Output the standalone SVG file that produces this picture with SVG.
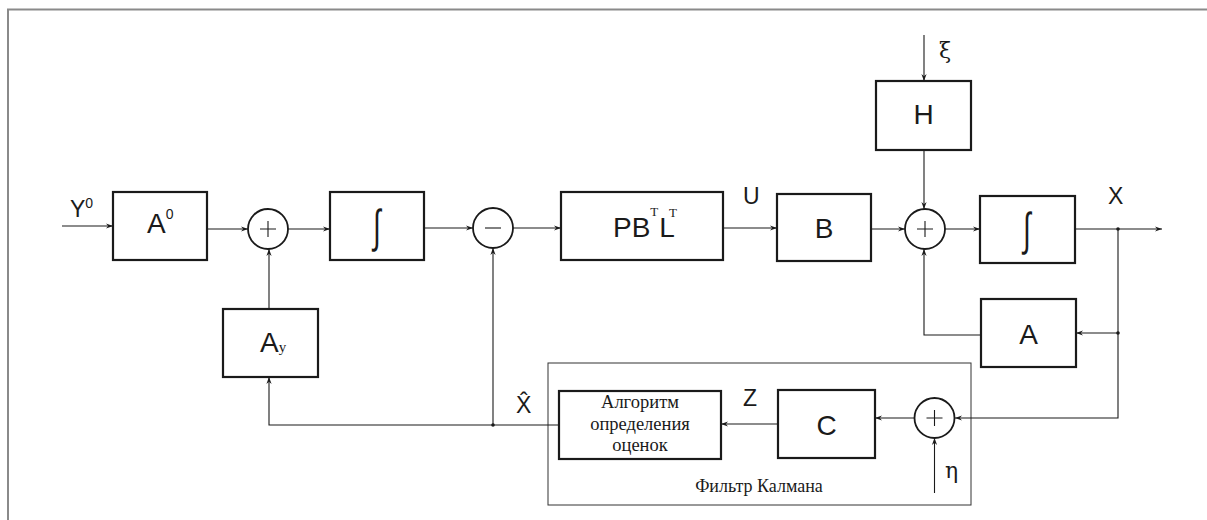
<svg xmlns="http://www.w3.org/2000/svg" width="1207" height="520" viewBox="0 0 1207 520">
  <defs>
    <marker id="arr" markerUnits="userSpaceOnUse" markerWidth="10" markerHeight="8" viewBox="-8 -4 9 8" refX="0" refY="0" orient="auto">
      <path d="M-7,-2.6 L0,0 L-7,2.6 L-4.8,0 Z" fill="#1a1a1a"/>
    </marker>
    <style>
      .blk { fill: #fff; stroke: #1a1a1a; stroke-width: 2.2; }
      .sum { fill: #fff; stroke: #1a1a1a; stroke-width: 1.8; }
      .ln { fill: none; stroke: #1a1a1a; stroke-width: 1.1; }
      .ar { marker-end: url(#arr); }
      .lbl { font-family: "Liberation Sans", Arial, sans-serif; font-size: 28px; fill: #1a1a1a; }
      .sig { font-family: "Liberation Sans", Arial, sans-serif; font-size: 23px; fill: #1a1a1a; }
      .sup { font-family: "Liberation Sans", Arial, sans-serif; font-size: 14px; fill: #1a1a1a; }
      .ser { font-family: "Liberation Serif", "Times New Roman", serif; fill: #1a1a1a; }
      .grk { font-family: "DejaVu Serif", "Liberation Serif", serif; font-size: 22px; fill: #1a1a1a; }
      .intg { font-family: "Liberation Sans", Arial, sans-serif; font-size: 46px; fill: #1a1a1a; }
      .dot { fill: #1a1a1a; }
    </style>
  </defs>

  <rect width="1207" height="520" fill="#fff"/>
  <!-- frame (top and left edges) -->
  <path d="M8,520 V9.5 H1207" fill="none" stroke="#8a8a8a" stroke-width="2"/>

  <!-- Kalman filter enclosure -->
  <g id="kalman">
    <rect x="548" y="363" width="423" height="142" fill="none" stroke="#333" stroke-width="1"/>
    <text class="ser" x="759" y="492" font-size="18" text-anchor="middle">Фильтр Калмана</text>
  </g>

  <!-- connectors -->
  <g id="connectors">
    <path class="ln ar" d="M62,226 H113"/>
    <path class="ln ar" d="M207,229 H248"/>
    <path class="ln ar" d="M288,229 H330"/>
    <path class="ln ar" d="M424,228 H473"/>
    <path class="ln ar" d="M513,228 H561"/>
    <path class="ln ar" d="M723,228 H777"/>
    <path class="ln ar" d="M871,229 H905"/>
    <path class="ln ar" d="M945,229 H980"/>
    <path class="ln ar" d="M1075,229 H1162"/>
    <path class="ln ar" d="M924,35 V81"/>
    <path class="ln ar" d="M924,150 V209"/>
    <path class="ln ar" d="M1118,229 V418 H955"/>
    <path class="ln ar" d="M1118,333 H1076"/>
    <path class="ln ar" d="M981,335 H924 V249"/>
    <path class="ln ar" d="M914.5,418 H875"/>
    <path class="ln ar" d="M934.5,493 V438"/>
    <path class="ln ar" d="M778,424 H721"/>
    <path class="ln ar" d="M559,425 H269 V377"/>
    <path class="ln ar" d="M493,425 V248"/>
    <path class="ln ar" d="M269,309 V249"/>
    <circle class="dot" cx="1118" cy="229" r="1.8"/>
    <circle class="dot" cx="1118" cy="333" r="1.8"/>
    <circle class="dot" cx="493" cy="425" r="1.8"/>
  </g>

  <!-- signal labels -->
  <g id="signals">
    <text class="sig" x="70" y="217">Y<tspan class="sup" dy="-9">0</tspan></text>
    <text class="sig" x="743" y="204">U</text>
    <text class="sig" x="1108" y="204">X</text>
    <text class="sig" x="743" y="406">Z</text>
    <text class="sig" x="516" y="413">X̂</text>
    <text class="grk" x="939" y="58">ξ</text>
    <text class="grk" x="945" y="478">η</text>
  </g>

  <g id="A0">
    <rect class="blk" x="113" y="192" width="94" height="68"/>
    <text class="lbl" x="147" y="233">A<tspan class="sup" dy="-14">0</tspan></text>
  </g>

  <g id="sum1">
    <circle class="sum" cx="268" cy="229" r="20"/>
    <path class="ln" d="M260,229 H276 M268,221 V237" stroke-width="1.8"/>
  </g>

  <g id="int1">
    <rect class="blk" x="330" y="192" width="94" height="68"/>
    <text class="intg" x="0" y="0" text-anchor="middle" transform="translate(377 242) scale(0.6 1)">∫</text>
  </g>

  <g id="sum2">
    <circle class="sum" cx="493" cy="228" r="20"/>
    <path class="ln" d="M485,228 H501" stroke-width="2"/>
  </g>

  <g id="PBL">
    <rect class="blk" x="561" y="192" width="162" height="68"/>
    <text class="lbl" x="613" y="237">PB<tspan class="ser" font-size="13" dy="-21">T</tspan><tspan dx="1" dy="21">L</tspan></text>
    <text class="ser" x="669" y="217" font-size="13">T</text>
  </g>

  <g id="B">
    <rect class="blk" x="777" y="194" width="94" height="67"/>
    <text class="lbl" x="824" y="238" text-anchor="middle">B</text>
  </g>

  <g id="H">
    <rect class="blk" x="876" y="81" width="95" height="69"/>
    <text class="lbl" x="923.5" y="124" text-anchor="middle">H</text>
  </g>

  <g id="sum3">
    <circle class="sum" cx="925" cy="229" r="20"/>
    <path class="ln" d="M917,229 H933 M925,221 V237" stroke-width="1.8"/>
  </g>

  <g id="int2">
    <rect class="blk" x="980" y="196" width="95" height="67"/>
    <text class="intg" x="0" y="0" text-anchor="middle" transform="translate(1027 245) scale(0.6 1)">∫</text>
  </g>

  <g id="A">
    <rect class="blk" x="981" y="299" width="95" height="68"/>
    <text class="lbl" x="1028.5" y="344" text-anchor="middle">A</text>
  </g>

  <g id="Ay">
    <rect class="blk" x="223" y="309" width="95" height="68"/>
    <text class="lbl" x="260" y="352">A<tspan class="ser" font-size="15" fill="#777">у</tspan></text>
  </g>

  <g id="sum4">
    <circle class="sum" cx="934.5" cy="418" r="20"/>
    <path class="ln" d="M926.5,418 H942.5 M934.5,410 V426" stroke-width="1.8"/>
  </g>

  <g id="C">
    <rect class="blk" x="778" y="390" width="97" height="68"/>
    <text class="lbl" x="826.5" y="435" text-anchor="middle">C</text>
  </g>

  <g id="estimator">
    <rect class="blk" x="559" y="391" width="162" height="68"/>
    <text class="ser" x="640" y="408" font-size="18.5" text-anchor="middle">Алгоритм</text>
    <text class="ser" x="640" y="430" font-size="18.5" text-anchor="middle">определения</text>
    <text class="ser" x="640" y="451" font-size="18.5" text-anchor="middle">оценок</text>
  </g>
</svg>
